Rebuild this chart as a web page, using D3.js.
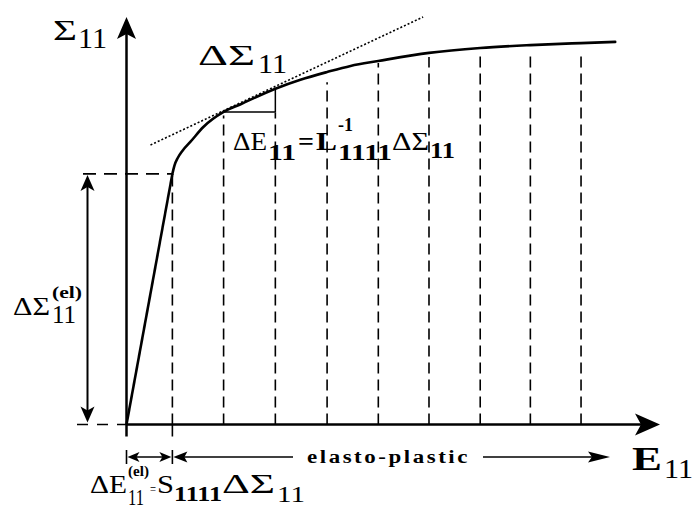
<!DOCTYPE html>
<html>
<head>
<meta charset="utf-8">
<script src="https://cdn.jsdelivr.net/npm/d3@7"></script>
<style>
  body { margin: 0; background: #fff; }
  svg { display: block; }
</style>
</head>
<body>
<svg id="chart"></svg>
<script>
// stress-strain curve (E11 strain units, S11 stress units, both 0..100)
const elasticE = [0, 8.6];
const elasticS = [0, 61.5];
const plasticE = [8.6, 9.0, 9.6, 10.5, 12.0, 14.4, 18.2, 21.4, 27.9, 32.6, 37.6, 42.0, 47.2, 56.7, 66.3, 75.7, 85.2, 91.6];
const plasticS = [61.5, 63.6, 65.4, 67.2, 69.4, 73.0, 76.7, 78.6, 82.4, 84.6, 86.5, 88.0, 89.2, 91.2, 92.4, 93.1, 93.6, 93.9];

// increments (dashed verticals) and the top end of each dashed line
const gridE = [8.6, 18.2, 27.9, 37.6, 47.2, 56.7, 66.3, 75.7, 85.2];
const gridTop = [61.5, 75.8, 76.5, 84.0, 88.7, 90.2, 90.7, 90.7, 90.7];

// tangent (dotted) and the increment triangle
const tangentE = [4.5, 55.6];
const tangentS = [68.6, 100];
const triE = [18.2, 27.9, 27.9];
const triS = [76.7, 76.7, 82.4];

const width = 696, height = 510;
const FONT = '"Liberation Serif", "Times New Roman", serif';

const svg = d3.select("#chart").attr("width", width).attr("height", height);

const x = d3.scaleLinear().domain([0, 100]).range([126.5, 660]);
const y = d3.scaleLinear().domain([0, 100]).range([424.5, 17]);

const pts = (es, ss) => es.map((e, i) => [e, ss[i]]);
const line = d3.line().x((d) => x(d[0])).y((d) => y(d[1]));

// arrow head with notched back, tip at (tx,ty), pointing along angle (deg)
function arrowHead(tx, ty, angle, len, hw, notch) {
  svg
    .append("path")
    .attr("d", `M0,0L${-len},${-hw}L${-len + notch},0L${-len},${hw}Z`)
    .attr("transform", `translate(${tx},${ty}) rotate(${angle})`)
    .attr("fill", "#000");
}

// dashed verticals, drawn from the axis upward so a dash sits on the axis
svg
  .append("g")
  .selectAll("line")
  .data(gridE)
  .join("line")
  .attr("x1", (d) => x(d))
  .attr("x2", (d) => x(d))
  .attr("y1", y(0))
  .attr("y2", (d, i) => y(gridTop[i]))
  .attr("stroke", "#000")
  .attr("stroke-width", 1.6)
  .attr("stroke-dasharray", "11,6");

// horizontal dashed at the yield stress and at zero
svg
  .append("line")
  .attr("x1", 83)
  .attr("x2", x(elasticE[1]))
  .attr("y1", y(elasticS[1]))
  .attr("y2", y(elasticS[1]))
  .attr("stroke", "#000")
  .attr("stroke-width", 1.6)
  .attr("stroke-dasharray", "13,8");

svg
  .append("line")
  .attr("x1", 77)
  .attr("x2", x(0))
  .attr("y1", y(0))
  .attr("y2", y(0))
  .attr("stroke", "#000")
  .attr("stroke-width", 1.6)
  .attr("stroke-dasharray", "11,9");

// axes
svg
  .append("line")
  .attr("x1", x(0))
  .attr("x2", x(0))
  .attr("y1", y(0) + 12)
  .attr("y2", y(100) + 15)
  .attr("stroke", "#000")
  .attr("stroke-width", 2.5);
arrowHead(x(0), y(100), -90, 22, 9.5, 5);

svg
  .append("line")
  .attr("x1", x(0))
  .attr("x2", x(100) - 15)
  .attr("y1", y(0))
  .attr("y2", y(0))
  .attr("stroke", "#000")
  .attr("stroke-width", 2.5);
arrowHead(x(100), y(0), 0, 25, 11, 6);

// small tick at the elastic strain, below the axis
svg
  .append("line")
  .attr("x1", x(elasticE[1]))
  .attr("x2", x(elasticE[1]))
  .attr("y1", y(0))
  .attr("y2", y(0) + 12)
  .attr("stroke", "#000")
  .attr("stroke-width", 1.6);

// tangent line
svg
  .append("path")
  .datum(pts(tangentE, tangentS))
  .attr("d", line)
  .attr("fill", "none")
  .attr("stroke", "#000")
  .attr("stroke-width", 1.6)
  .attr("stroke-dasharray", "2,2");

// increment triangle
svg
  .append("path")
  .datum(pts(triE, triS))
  .attr("d", line)
  .attr("fill", "none")
  .attr("stroke", "#000")
  .attr("stroke-width", 1.5);

// the curve
svg
  .append("path")
  .datum(pts(elasticE, elasticS))
  .attr("d", line)
  .attr("fill", "none")
  .attr("stroke", "#000")
  .attr("stroke-width", 2.6);

svg
  .append("path")
  .datum(pts(plasticE, plasticS))
  .attr("d", line.curve(d3.curveMonotoneX))
  .attr("fill", "none")
  .attr("stroke", "#000")
  .attr("stroke-width", 2.6)
  .attr("stroke-linecap", "round");

// elastic stress double arrow
const ax = 87.5;
svg
  .append("line")
  .attr("x1", ax)
  .attr("x2", ax)
  .attr("y1", y(elasticS[1]) + 8)
  .attr("y2", y(0) - 8)
  .attr("stroke", "#000")
  .attr("stroke-width", 2);
arrowHead(ax, y(elasticS[1]) + 1, -90, 16, 7, 4);
arrowHead(ax, y(0) - 2, 90, 16, 7, 4);

// elastic strain / elasto-plastic arrows below the axis
const ay = 457;
svg
  .selectAll(".bar")
  .data([0, elasticE[1]])
  .join("line")
  .attr("x1", (d) => x(d))
  .attr("x2", (d) => x(d))
  .attr("y1", ay - 7)
  .attr("y2", ay + 7)
  .attr("stroke", "#000")
  .attr("stroke-width", 1.6);
svg
  .append("line")
  .attr("x1", x(0) + 4)
  .attr("x2", x(elasticE[1]) - 4)
  .attr("y1", ay)
  .attr("y2", ay)
  .attr("stroke", "#000")
  .attr("stroke-width", 1.6);
arrowHead(x(0) + 1, ay, 180, 12, 5, 3);
arrowHead(x(elasticE[1]) - 1, ay, 0, 12, 5, 3);

svg
  .append("line")
  .attr("x1", x(elasticE[1]) + 4)
  .attr("x2", 293)
  .attr("y1", ay)
  .attr("y2", ay)
  .attr("stroke", "#000")
  .attr("stroke-width", 1.6);
arrowHead(x(elasticE[1]) + 1, ay, 180, 14, 5.5, 3);

svg
  .append("line")
  .attr("x1", 483)
  .attr("x2", 600)
  .attr("y1", ay)
  .attr("y2", ay)
  .attr("stroke", "#000")
  .attr("stroke-width", 1.6);
arrowHead(610, ay, 0, 22, 5.5, 4);

// labels: [text, x, baseline, size, bold, width]
const labels = [
  ["elasto-plastic", 307, 463, 18, true, 163],
  ["Σ", 53, 40, 30, false, 24],
  ["11", 78, 48, 29, false, 29],
  ["ΔΣ", 198, 65, 29, false, 57],
  ["11", 258, 73, 27, false, 29],
  ["ΔE", 233, 150, 26, false, 34],
  ["11", 268, 160, 24, true, 28],
  ["=", 298, 150, 25, true, 16],
  ["L", 316, 150, 26, true, 21],
  ["-1", 338, 131, 19, true, 15],
  ["1111", 338, 160, 24, true, 54],
  ["ΔΣ", 392, 150, 26, false, 37],
  ["11", 430, 158, 24, true, 25],
  ["ΔΣ", 13, 315, 26, false, 37],
  ["(el)", 52, 298, 16, true, 30],
  ["11", 52, 323, 25, false, 24],
  ["ΔE", 90, 493, 26, false, 37],
  ["(el)", 128, 476, 15, true, 21],
  ["11", 128, 505, 23, false, 16],
  ["=", 150, 494, 15, false, 6],
  ["S", 157, 493, 26, false, 17],
  ["1111", 174, 501, 22, true, 48],
  ["ΔΣ", 222, 493, 27, false, 53],
  ["11", 277, 502, 24, false, 28],
  ["E", 632, 470, 33, true, 30],
  ["11", 664, 478, 27, false, 29],
];

svg
  .append("g")
  .selectAll("text")
  .data(labels)
  .join("text")
  .attr("x", (d) => d[1])
  .attr("y", (d) => d[2])
  .attr("textLength", (d) => d[5])
  .attr("lengthAdjust", "spacingAndGlyphs")
  .attr("fill", "#000")
  .style("font-family", FONT)
  .style("font-size", (d) => d[3] + "px")
  .style("font-weight", (d) => (d[4] ? "bold" : "normal"))
  .style("letter-spacing", (d) => (d[0].length > 4 ? "2px" : null))
  .text((d) => d[0]);
</script>
</body>
</html>
